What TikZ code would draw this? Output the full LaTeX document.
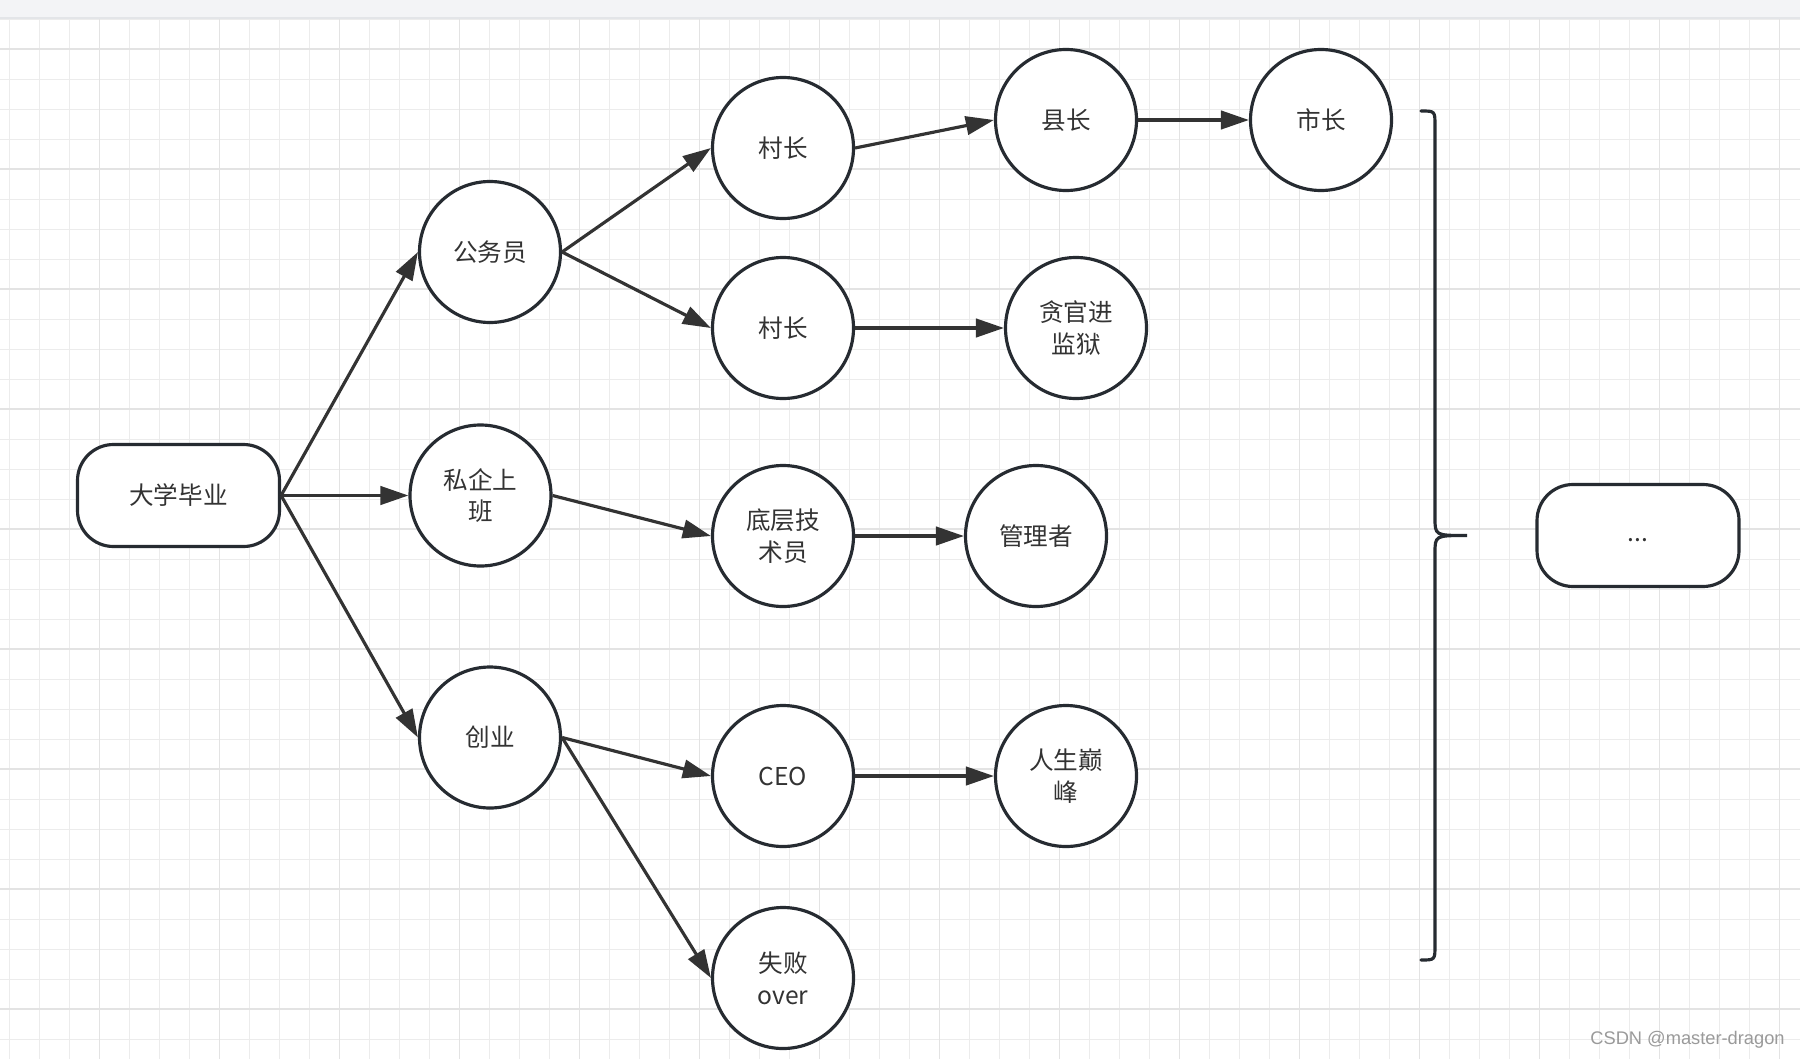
\documentclass[tikz,border=0pt]{standalone}
\usepackage{fontspec}
\setmainfont{Noto Sans CJK SC}
\newfontfamily\markfont{Liberation Sans}
\usetikzlibrary{arrows.meta,positioning}

\definecolor{ink}{HTML}{262B31}
\definecolor{wire}{HTML}{333333}
\definecolor{txt}{HTML}{333333}
\definecolor{gridlo}{HTML}{ECECEC}
\definecolor{gridhi}{HTML}{E3E3E3}
\definecolor{band}{HTML}{F3F4F6}
\definecolor{bandline}{HTML}{E3E5E8}
\definecolor{mark}{HTML}{9A9A9A}

\tikzstyle{career} = [draw=ink, fill=white, circle, line width=1.8pt, minimum size=2.82cm, inner sep=0pt, align=center, text=txt, font=\fontsize{14}{18}\selectfont]
\tikzstyle{endpoint} = [draw=ink, fill=white, rectangle, rounded corners=0.72cm, line width=1.8pt, minimum width=4.04cm, minimum height=2.04cm, align=center, text=txt, font=\fontsize{14}{18}\selectfont]
\tikzstyle{link} = [draw=wire, line width=1.8pt, -{Triangle[length=16pt, width=10.5pt]}]
\tikzstyle{bracket} = [draw=ink, line width=1.8pt, line cap=round]

\begin{document}
\begin{tikzpicture}
	\useasboundingbox (0,0) rectangle (36,-21.16);
	\fill[white] (0,0) rectangle (36,-21.16);

	% grid paper
	\begin{scope}
		\clip (0,-0.36) rectangle (36,-21.16);
		\draw[gridlo, line width=0.55pt, xshift=0.186cm, yshift=-0.38cm] (-0.6,-21.4) grid[step=0.6cm] (36.6,0.6);
		\draw[gridhi, line width=0.85pt, xshift=1.986cm, yshift=-0.98cm] (-2.4,-21.6) grid[step=2.4cm] (36,2.4);
	\end{scope}
	\fill[band] (0,0) rectangle (36,-0.36);
	\draw[bandline, line width=0.6pt] (0,-0.36) -- (36,-0.36);

	\node [endpoint] (graduate) at (3.57,-9.91) {大学毕业};
	\node [career, right of=graduate, node distance=6.04cm] (privatejob) {私企上\\班};
	\node [career] (civil) at (9.8,-5.04) {公务员};
	\node [career] (startup) at (9.8,-14.75) {创业};

	\node [career] (village1) at (15.66,-2.96) {村长};
	\node [career] (village2) at (15.66,-6.56) {村长};
	\node [career] (tech) at (15.66,-10.72) {底层技\\术员};
	\node [career] (ceo) at (15.66,-15.52) {CEO};
	\node [career] (fail) at (15.66,-19.56) {失败\\over};

	\node [career] (county) at (21.32,-2.4) {县长};
	\node [career, right of=county, node distance=5.1cm] (city) {市长};
	\node [career, right of=village2, node distance=5.86cm] (jail) {贪官进\\监狱};
	\node [career, right of=tech, node distance=5.06cm] (manager) {管理者};
	\node [career, right of=ceo, node distance=5.66cm] (peak) {人生巅\\峰};

	\node [endpoint] (more) at (32.76,-10.71) {\strut...};

	% first choice
	\draw [link] (graduate.east) to (civil.west);
	\draw [link] (graduate.east) to (privatejob.west);
	\draw [link] (graduate.east) to (startup.west);

	% civil servant
	\draw [link] (civil.east) to (village1.west);
	\draw [link] (civil.east) to (village2.west);
	\draw [link] (village1.east) to (county.west);
	\draw [link] (county.east) to (city.west);
	\draw [link] (village2.east) to (jail.west);

	% private company
	\draw [link] (privatejob.east) to (tech.west);
	\draw [link] (tech.east) to (manager.west);

	% own business
	\draw [link] (startup.east) to (ceo.west);
	\draw [link] (startup.east) to (fail.west);
	\draw [link] (ceo.east) to (peak.west);

	% brace
	\draw [bracket] (28.42,-2.22) .. controls (28.7,-2.22) .. (28.7,-2.52) -- (28.7,-10.36)
		.. controls (28.7,-10.71) .. (29.34,-10.71)
		.. controls (28.7,-10.71) .. (28.7,-11.06) -- (28.7,-18.9)
		.. controls (28.7,-19.2) .. (28.42,-19.2);

	\node [anchor=east, text=mark, font=\markfont\fontsize{10.4}{12}\selectfont, inner sep=0pt] (watermark) at (35.7,-20.8) {CSDN @master-dragon};
\end{tikzpicture}
\end{document}
